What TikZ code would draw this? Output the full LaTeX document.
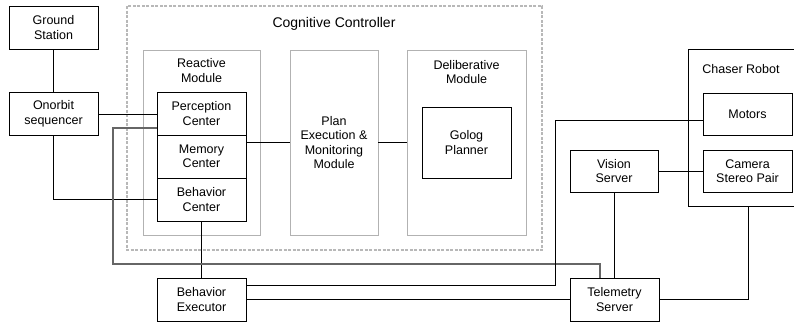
\documentclass[tikz,border=0pt]{standalone}
\usepackage{fontspec}
\setmainfont{Liberation Sans}
\usepackage{tikz}
\usetikzlibrary{calc}

\begin{document}
\begin{tikzpicture}[x=1pt, y=-1pt,
    every node/.style={font=\fontsize{12.5}{14.5}\selectfont, align=center, inner sep=0pt},
    box/.style={draw, line width=0.9pt, minimum width=89pt, minimum height=43pt},
    modbox/.style={draw=black!30, line width=0.9pt, minimum width=#1, minimum height=185pt},
    link/.style={line width=0.9pt},
    longlink/.style={line width=1.1pt, draw=black!60}]
    \useasboundingbox (0,0) rectangle (794,322);
    \draw[draw=black!28, line width=1.7pt, dash pattern=on 3pt off 1.5pt] (127,6) rectangle (542,250);
    \node (cctitle) at (334,24) {\fontsize{14}{16}\selectfont Cognitive Controller};

    \node[modbox=117pt] (react) at (201.5,142.5) {};
    \node[modbox=88pt] (plan) at (334,142.5) {Plan\\Execution \&\\Monitoring\\Module};
    \node[modbox=119pt] (delib) at (466.5,142.5) {};
    \node (reactlbl) at (201.5,70.5) {Reactive\\Module};
    \node (deliblbl) at (466.5,72) {Deliberative\\Module};

    \node[box] (gs) at (53.5,27.5) {Ground\\Station};
    \node[box] (seq) at (53.5,114) {Onorbit\\sequencer};
    \node[box] (percep) at (201.5,113.5) {Perception\\Center};
    \node[box] (mem) at (201.5,156.5) {Memory\\Center};
    \node[box] (behc) at (201.5,199.5) {Behavior\\Center};
    \node[box, minimum height=71pt] (golog) at (466.5,142.5) {Golog\\Planner};

    \node[box, minimum width=107pt, minimum height=157pt] (chaser) at (741.5,127.5) {};
    \node (chaserlbl) at (741,69) {Chaser Robot};
    \node[box, minimum height=42pt] (motors) at (747.5,114) {Motors};
    \node[box, minimum height=42pt] (camera) at (747.5,171) {Camera\\Stereo Pair};
    \node[box, minimum width=88pt, minimum height=42pt] (vision) at (614,171) {Vision\\Server};
    \node[box] (telem) at (614.5,299.5) {Telemetry\\Server};
    \node[box] (bexec) at (201.5,299.5) {Behavior\\Executor};

    \coordinate (loopc) at (113,264); \coordinate (mbend) at (555,120);

    \draw[link] (gs) -- (seq);
    \draw[link] (seq.east) -- (seq.east -| percep.west);
    \draw[link] (seq.south) |- (behc.west);
    \draw[link] (mem.east |- plan.west) -- (plan.west);
    \draw[link] (plan.east) -- (delib.west);
    \draw[link] (behc) -- (bexec);
    \draw[longlink] ([yshift=-14.5pt]percep.west) -| (loopc) -| ([xshift=-14.5pt]telem.north);
    \draw[link] ([yshift=14.5pt]bexec.east) -| (mbend) -- ([yshift=-6pt]motors.west);
    \draw[link] (bexec.east) -- (telem.west);
    \draw[link] (vision.east) -- (camera.west);
    \draw[link] (vision.south) -- (vision.south |- telem.north);
    \draw[link] (telem.east) -| ([xshift=6.5pt]chaser.south);
\end{tikzpicture}
\end{document}
